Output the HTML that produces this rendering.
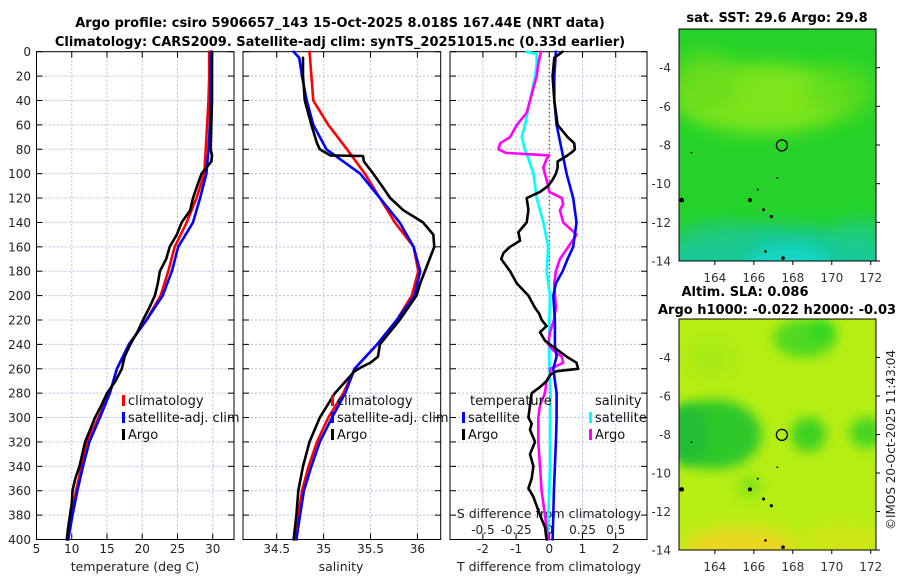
<!DOCTYPE html>
<html><head><meta charset="utf-8">
<style>
html,body{margin:0;padding:0;background:#fff;}
svg{display:block;font-family:"DejaVu Sans","Liberation Sans",sans-serif;}
</style></head>
<body>
<svg id="fig" width="900" height="580" viewBox="0 0 900 580" xmlns="http://www.w3.org/2000/svg">
<defs>
<filter id="blur1" x="-50%" y="-50%" width="200%" height="200%"><feGaussianBlur stdDeviation="9"/></filter>
<filter id="blur2" x="-50%" y="-50%" width="200%" height="200%"><feGaussianBlur stdDeviation="6"/></filter>
<clipPath id="clipTop"><rect x="679" y="29" width="197" height="232"/></clipPath>
<clipPath id="clipBot"><rect x="679" y="319" width="197" height="231"/></clipPath>
</defs>
<text x="340" y="27" text-anchor="middle" font-size="13" font-weight="bold">Argo profile: csiro 5906657_143 15-Oct-2025 8.018S 167.44E (NRT data)</text>
<text x="340" y="46" text-anchor="middle" font-size="13" font-weight="bold">Climatology: CARS2009. Satellite-adj clim: synTS_20251015.nc (0.33d earlier)</text>
<text x="777" y="22" text-anchor="middle" font-size="13" font-weight="bold">sat. SST: 29.6 Argo: 29.8</text>
<text x="745" y="296" text-anchor="middle" font-size="13" font-weight="bold">Altim. SLA: 0.086</text>
<text x="658" y="314" font-size="13" font-weight="bold">Argo h1000: -0.022 h2000: -0.03</text>
<text transform="translate(895,440) rotate(-90)" text-anchor="middle" font-size="12" fill="#222">©IMOS 20-Oct-2025 11:43:04</text>
</svg>
<script>
// ---------- data ----------
const depthTicks = [0,20,40,60,80,100,120,140,160,180,200,220,240,260,280,300,320,340,360,380,400];
const tempTicks = [5,10,15,20,25,30];
const salTicks = [34.5,35,35.5,36];
const diffTicks = [-2,-1,0,1,2];
const sdiffTickLabels = ["-0.5","-0.25","0","0.25","0.5"];
const sdiffTickValues = [-0.5,-0.25,0,0.25,0.5];

const tClimDepth = [0,20,40,60,80,100,120,140,160,180,200,220,240,260,280,300,320,340,360,380,400];
const tClimVal = [29.5,29.5,29.4,29.2,29.0,28.8,27.7,26.3,24.6,23.7,22.6,20.6,18.1,16.4,15.4,13.8,12.2,11.4,10.6,10.0,9.5];
const tSatDepth = [0,20,40,60,80,100,120,140,160,180,200,220,240,260,280,300,320,340,360,380,400];
const tSatVal = [29.7,29.7,29.7,29.6,29.4,29.1,28.2,27.2,25.1,24.2,22.9,20.6,18.1,16.4,15.4,14.0,12.5,11.6,10.8,10.1,9.5];
const tArgoDepth = [0,10,20,40,60,80,85,90,100,110,120,130,140,150,160,170,180,190,200,210,220,230,240,250,255,260,270,280,290,300,310,320,330,340,350,360,370,380,390,400];
const tArgoVal = [29.9,29.9,29.9,29.9,29.8,29.7,29.9,29.8,28.4,27.8,27.2,26.8,25.6,24.9,23.9,23.4,22.5,22.2,21.8,21.0,20.1,19.3,18.3,17.5,17.3,17.1,16.2,15.0,14.2,13.3,12.6,11.9,11.5,11.1,10.5,10.1,10.0,9.75,9.5,9.3];

const sClimDepth = [0,20,40,60,80,100,120,140,160,180,200,220,240,260,280,300,320,340,360,380,400];
const sClimVal = [34.85,34.87,34.89,35.05,35.25,35.44,35.60,35.76,35.96,36.01,35.94,35.78,35.57,35.33,35.21,35.05,34.93,34.84,34.77,34.73,34.70];
const sSatDepth = [0,5,20,40,60,80,100,120,140,160,180,200,220,240,260,280,300,320,340,360,380,400];
const sSatVal = [34.68,34.74,34.77,34.82,34.89,35.03,35.39,35.60,35.81,35.96,36.03,35.97,35.78,35.57,35.33,35.23,35.09,34.96,34.87,34.79,34.75,34.71];
const sArgoDepth = [5,20,40,60,75,80,85,85.5,90,100,110,120,130,140,150,160,170,180,190,200,220,240,250,255,258,262,280,300,320,340,360,380,400];
const sArgoVal = [34.78,34.78,34.80,34.87,34.93,34.96,35.07,35.42,35.43,35.53,35.62,35.71,35.85,36.06,36.17,36.18,36.13,36.08,36.03,35.99,35.81,35.60,35.58,35.50,35.42,35.33,35.12,34.96,34.85,34.78,34.73,34.71,34.68];

const dTSatDepth = [0,20,40,60,80,100,120,140,160,170,180,190,200,220,240,250,260,280,300,320,340,360,380,400];
const dTSatVal = [0.2,0.15,0.15,0.22,0.37,0.52,0.72,0.82,0.72,0.55,0.4,0.2,0.12,0.17,0.17,0.22,0.12,0.22,0.22,0.2,0.17,0.14,0.12,0.1];
const dTArgoDepth = [0,5,20,40,60,70,75,80,82,85,90,95,100,105,110,115,120,130,140,148,155,160,165,170,180,190,200,210,215,220,225,230,237,240,250,255,260,262,265,270,275,280,290,300,305,310,320,330,340,350,358,365,380,390,400];
const dTArgoVal = [0.4,0.15,0.1,0.15,0.25,0.55,0.75,0.77,0.7,0.55,0.25,0.25,0.2,0.1,-0.03,-0.28,-0.68,-0.63,-0.68,-0.93,-0.88,-1.18,-1.38,-1.45,-1.18,-0.98,-0.63,-0.43,-0.3,-0.23,-0.08,-0.28,-0.13,0.02,0.52,0.82,0.87,0.22,0.02,-0.08,-0.28,-0.53,-0.58,-0.63,-0.53,-0.58,-0.43,-0.58,-0.48,-0.53,-0.63,-0.48,-0.28,-0.13,-0.08];
// salinity differences (psu)
const dSSatDepth = [0,2,10,20,40,60,70,80,90,100,120,140,160,180,200,220,240,260,280,300,340,400];
const dSSatVal = [-0.17,-0.095,-0.095,-0.108,-0.145,-0.183,-0.208,-0.183,-0.15,-0.12,-0.095,-0.045,-0.008,-0.02,0.005,0,0,0,0.01,0.005,0.005,-0.013];
const dSArgoDepth = [0,10,20,40,50,60,70,75,80,83,85,88,95,100,110,115,120,125,130,140,150,160,170,180,190,200,210,220,230,240,245,250,255,258,260,265,270,280,290,300,320,340,360,380,400];
const dSArgoVal = [-0.063,-0.083,-0.095,-0.145,-0.17,-0.245,-0.295,-0.37,-0.383,-0.325,0,-0.02,-0.045,-0.033,-0.008,0,0.093,0.105,0.08,0.105,0.205,0.143,0.08,0.05,0.038,0.043,0.05,0.035,0.005,-0.008,0.03,0.093,0.105,0.05,0.005,0.01,-0.02,-0.033,-0.07,-0.083,-0.083,-0.07,-0.058,-0.033,-0.008];

const lonTicks = [164,166,168,170,172];
const latTicks = [-4,-6,-8,-10,-12,-14];
const floatLon = 167.44, floatLat = -8.018;

// ---------- scales ----------
const NS = "http://www.w3.org/2000/svg";
const svg = document.getElementById('fig');
const Y0 = 51.7, Y1 = 539.5;
function yD(d){ return Y0 + d/400*(Y1-Y0); }
function xT(t){ return 36.5 + (t-5)*7.05; }
function xS(s){ return 276.7 + (s-34.5)*93.8; }
function xDT(v){ return 549.3 + v*33.2; }
function xDS(v){ return 549.3 + v*4*33.2; }
const panels = [
  {x0:36.5, x1:234, name:'temperature-panel'},
  {x0:243, x1:440.7, name:'salinity-panel'},
  {x0:450, x1:647, name:'difference-panel'}
];
function el(tag, attrs, parent){
  const e = document.createElementNS(NS, tag);
  for (const k in attrs) e.setAttribute(k, attrs[k]);
  (parent||svg).appendChild(e);
  return e;
}

// ---------- panels ----------
const gridColor = "#b8bedf";
panels.forEach((p, pi) => {
  const g = el('g', {});
  
  
  depthTicks.forEach(d => {
    const y = yD(d);
    const gl = el('line', {x1:p.x0, x2:p.x1, y1:y, y2:y, stroke:gridColor, 'stroke-width':1, 'stroke-dasharray':'2,2'}, g);
    
    
    const t1 = el('line', {x1:p.x0, x2:p.x0+6, y1:y, y2:y, stroke:'#000', 'stroke-width':1}, g);
    
    
    const t2 = el('line', {x1:p.x1-6, x2:p.x1, y1:y, y2:y, stroke:'#000', 'stroke-width':1}, g);
    
    
  });
  let ticks, fx;
  if (pi===0){ ticks = tempTicks; fx = xT; }
  else if (pi===1){ ticks = salTicks; fx = xS; }
  else { ticks = diffTicks; fx = xDT; }
  ticks.forEach(v => {
    const x = fx(v);
    if (x > p.x0+1 && x < p.x1-1){
      const gl = el('line', {x1:x, x2:x, y1:Y0, y2:Y1, stroke:gridColor, 'stroke-width':1, 'stroke-dasharray':'2,2'}, g);
      
      
    }
    const tk = el('line', {x1:x, x2:x, y1:Y1-6, y2:Y1, stroke:'#000', 'stroke-width':1}, g);
    
    
    const tk2 = el('line', {x1:x, x2:x, y1:Y0, y2:Y0+6, stroke:'#000', 'stroke-width':1}, g);
    
    
    const lb = el('text', {x:x, y:553, 'text-anchor':'middle', 'font-size':12, fill:'#222'}, g);
    lb.textContent = String(v);
    
    
  });
  const fr = el('rect', {x:p.x0, y:Y0, width:p.x1-p.x0, height:Y1-Y0, fill:'none', stroke:'#000', 'stroke-width':1}, g);
  
  
});

depthTicks.forEach(d => {
  const t = el('text', {x:31, y:yD(d)+4.5, 'text-anchor':'end', 'font-size':12, fill:'#222'});
  t.textContent = String(d);
  
  
});

const zl = el('line', {x1:xDT(0), x2:xDT(0), y1:Y0, y2:Y1, stroke:'#333', 'stroke-width':1, 'stroke-dasharray':'1.5,2.5'});



const at1 = el('text', {x:135, y:571, 'text-anchor':'middle', 'font-size':12.5, fill:'#222'});
at1.textContent = 'temperature (deg C)';


const at2 = el('text', {x:341, y:571, 'text-anchor':'middle', 'font-size':12.5, fill:'#222'});
at2.textContent = 'salinity';


const at3 = el('text', {x:549, y:571, 'text-anchor':'middle', 'font-size':12.5, fill:'#222'});
at3.textContent = 'T difference from climatology';


const at4 = el('text', {x:549, y:518, 'text-anchor':'middle', 'font-size':12.5, fill:'#222'});
at4.textContent = 'S difference from climatology';


sdiffTickValues.forEach((v, i) => {
  const t = el('text', {x:xDS(v), y:534, 'text-anchor':'middle', 'font-size':12, fill:'#222'});
  t.textContent = sdiffTickLabels[i];
  
  
});

// ---------- series ----------
function line(depths, vals, fx, color, name){
  const pts = depths.map((d,i) => fx(vals[i]).toFixed(1)+','+yD(d).toFixed(1)).join(' ');
  const pl = el('polyline', {points:pts, fill:'none', stroke:color, 'stroke-width':2.6, 'stroke-linejoin':'round', 'stroke-linecap':'round'});
  
  
}
line(tClimDepth, tClimVal, xT, '#ff0000', 'temperature-climatology-line');
line(tSatDepth, tSatVal, xT, '#0000ff', 'temperature-satellite-line');
line(tArgoDepth, tArgoVal, xT, '#000000', 'temperature-argo-line');
line(sClimDepth, sClimVal, xS, '#ff0000', 'salinity-climatology-line');
line(sSatDepth, sSatVal, xS, '#0000ff', 'salinity-satellite-line');
line(sArgoDepth, sArgoVal, xS, '#000000', 'salinity-argo-line');
line(dSSatDepth, dSSatVal, xDS, '#00ffff', 'salinity-diff-satellite-line');
line(dSArgoDepth, dSArgoVal, xDS, '#ff00ff', 'salinity-diff-argo-line');
line(dTSatDepth, dTSatVal, xDT, '#0000ff', 'temperature-diff-satellite-line');
line(dTArgoDepth, dTArgoVal, xDT, '#000000', 'temperature-diff-argo-line');

// ---------- legends ----------
function legendEntry(x, y, color, label){
  const m = el('rect', {x:x, y:y-10, width:3, height:11, fill:color});
  
  
  const t = el('text', {x:x+6, y:y, 'font-size':13, fill:'#111'});
  t.textContent = label;
  
  
}
legendEntry(122, 405, '#ff0000', 'climatology');
legendEntry(122, 422, '#0000ff', 'satellite-adj. clim');
legendEntry(122, 439, '#000000', 'Argo');
legendEntry(331, 405, '#ff0000', 'climatology');
legendEntry(331, 422, '#0000ff', 'satellite-adj. clim');
legendEntry(331, 439, '#000000', 'Argo');
const lt1 = el('text', {x:470, y:405, 'font-size':13, fill:'#111'});
lt1.textContent = 'temperature';


const lt2 = el('text', {x:595, y:405, 'font-size':13, fill:'#111'});
lt2.textContent = 'salinity';


legendEntry(462, 422, '#0000ff', 'satellite');
legendEntry(462, 439, '#000000', 'Argo');
legendEntry(589, 422, '#00ffff', 'satellite');
legendEntry(589, 439, '#ff00ff', 'Argo');

// ---------- maps ----------
function mapAxes(top, bot, clip, base, blobs, name){
  const LON0 = 162.16, LON1 = 172.27, LAT0 = -2.0, LAT1 = -14.0;
  const X0 = 679, X1 = 876;
  const mx = lon => X0 + (lon-LON0)/(LON1-LON0)*(X1-X0);
  const my = lat => top + (LAT0-lat)/(LAT0-LAT1)*(bot-top);
  const g = el('g', {'clip-path':'url(#'+clip+')'});
  
  
  const bg = el('rect', {x:X0, y:top, width:X1-X0, height:bot-top, fill:base}, g);
  
  
  blobs.forEach(b => {
    const e = el('ellipse', {cx:mx(b[0]), cy:my(b[1]), rx:b[2]*19.4, ry:b[3]*19.3, fill:b[4], filter:'url(#'+b[5]+')', opacity:b[6]}, g);
    
    
  });
  [[162.3,-10.85,2.3],[165.8,-10.85,2],[166.5,-11.35,1.5],[166.9,-11.7,1.6],[166.6,-13.5,1.3],[167.5,-13.85,1.8],[167.2,-9.7,0.9],[162.8,-8.4,0.9],[166.2,-10.3,1]].forEach(s => {
    const c = el('circle', {cx:mx(s[0]), cy:my(s[1]), r:s[2], fill:'#000'}, g);
    
    
  });
  const fc = el('circle', {cx:mx(floatLon), cy:my(floatLat), r:5.5, fill:'none', stroke:'#000', 'stroke-width':1.3});
  
  
  const fr = el('rect', {x:X0, y:top, width:X1-X0, height:bot-top, fill:'none', stroke:'#000', 'stroke-width':1});
  
  
  lonTicks.forEach(l => {
    const t = el('text', {x:mx(l), y:bot+21, 'text-anchor':'middle', 'font-size':12, fill:'#333'});
    t.textContent = String(l);
    
    
    const tk = el('line', {x1:mx(l), x2:mx(l), y1:bot, y2:bot+4, stroke:'#000'});
    
    
  });
  latTicks.forEach(l => {
    const t = el('text', {x:671, y:my(l)+4.5, 'text-anchor':'end', 'font-size':12, fill:'#333'});
    t.textContent = String(l);
    
    
    const tk = el('line', {x1:X1, x2:X1+4, y1:my(l), y2:my(l), stroke:'#000'});
    
    
  });
}
mapAxes(29, 261, 'clipTop', '#26d22a', [
  [166.5,-5.6,4.5,1.8,'#84e61a','blur1',0.95],
  [163.5,-4.8,1.8,1.6,'#6cdc1c','blur1',0.8],
  [170.5,-5.2,1.8,1.4,'#5cdc1c','blur1',0.75],
  [167,-14,6,1.8,'#14c8a0','blur1',0.95],
  [167.8,-14.2,2.2,1.0,'#18d8c8','blur2',0.95],
  [164,-12.8,2,0.8,'#20c880','blur1',0.7],
  [171.5,-12.8,1.5,1,'#1ccc90','blur1',0.7]
], 'sst-map');
mapAxes(319, 550, 'clipBot', '#b6ee14', [
  [164.0,-8.0,2.4,1.8,'#2ec82c','blur2',1],
  [162.6,-8.0,1.0,1.6,'#22be34','blur2',1],
  [168.8,-8.0,0.9,0.9,'#3cd020','blur2',1],
  [171.8,-7.9,0.9,0.8,'#46d420','blur2',1],
  [168.6,-3.0,1.6,1.0,'#50d820','blur2',1],
  [169.5,-2.6,0.6,0.5,'#2ed820','blur2',1],
  [165.3,-14.0,3.0,1.2,'#f0d420','blur1',0.95],
  [170.5,-13.6,2,0.8,'#e0e018','blur1',0.7],
  [163.8,-4.0,1.3,1.0,'#a0e816','blur1',0.7],
  [165.8,-10.7,0.6,0.6,'#78e01a','blur2',0.8]
], 'sla-map');
</script>
</body></html>
